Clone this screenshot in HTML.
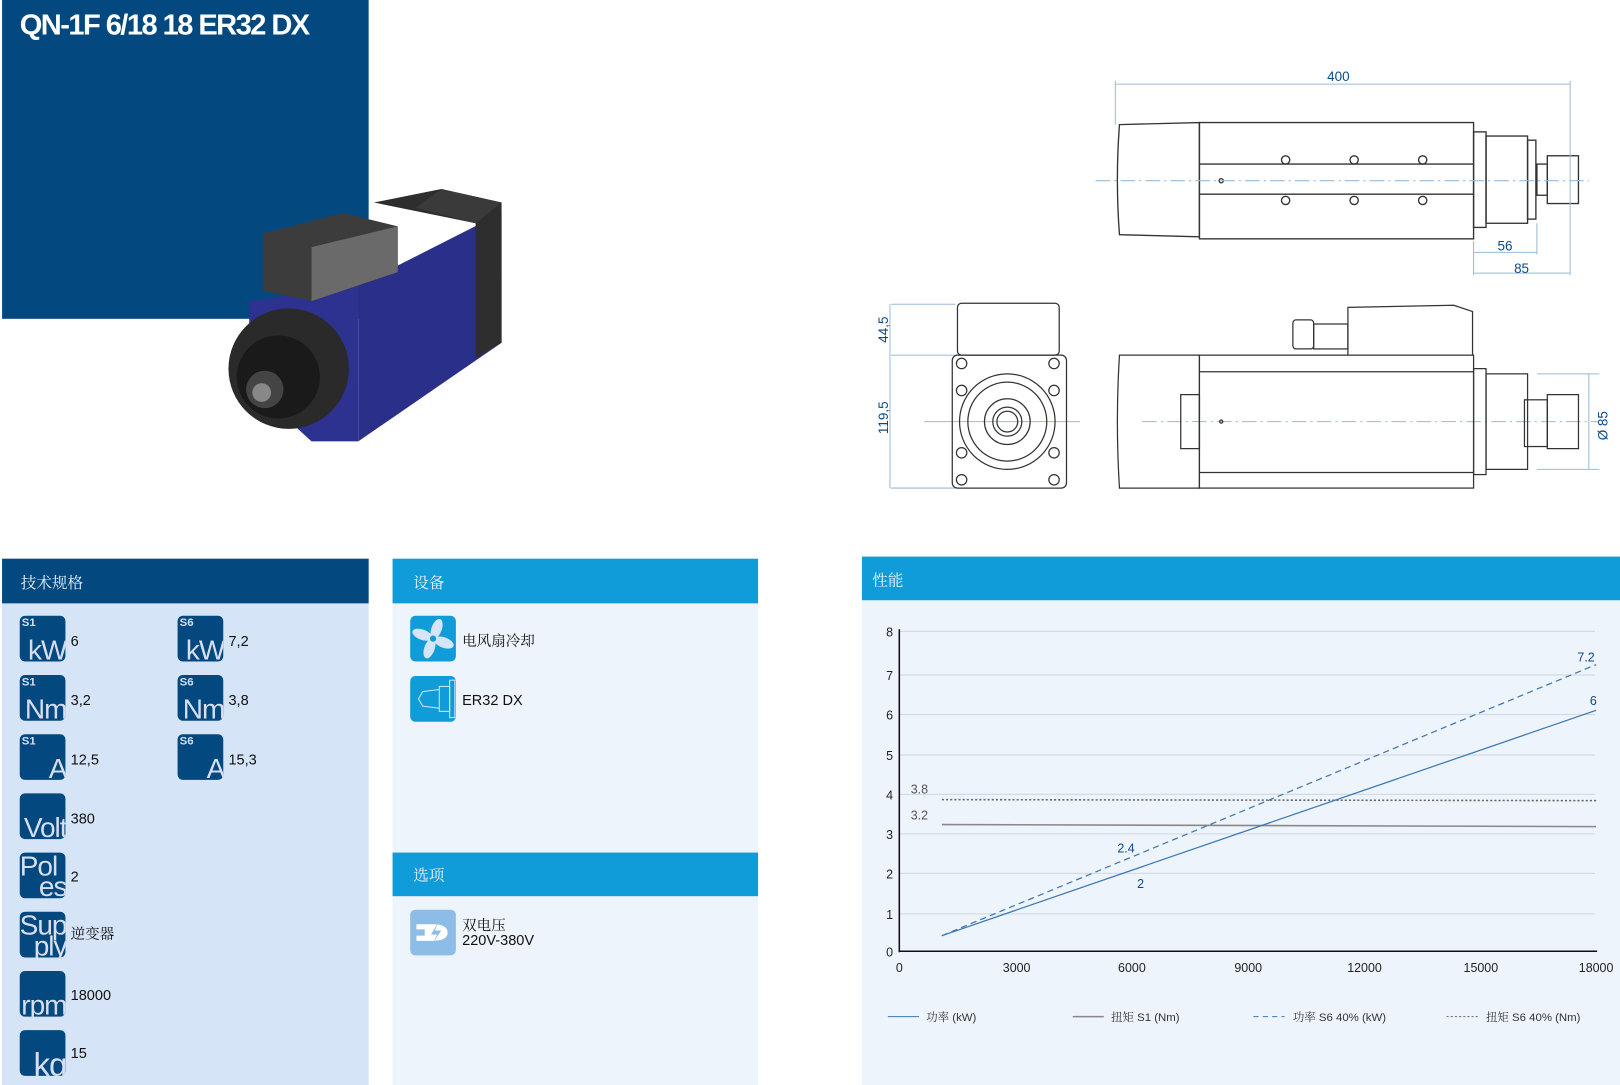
<!DOCTYPE html>
<html><head><meta charset="utf-8"><style>
body{margin:0;width:1620px;height:1081px;background:#fff;position:relative;overflow:hidden;font-family:"Liberation Sans","Noto Sans CJK SC",sans-serif}
#w{position:absolute;left:0;top:0;width:1560px;height:1041px;transform:scale(1.03846);transform-origin:0 0}
.a{position:absolute}
.ic{position:absolute;width:44px;height:44px;background:#03487f;border-radius:5px;overflow:hidden;color:#d8def0}
.ic .s{position:absolute;left:2px;top:1px;font-size:11px;font-weight:bold}
.ic .b{position:absolute;right:-1px;bottom:-3px;font-size:27px;line-height:27px;letter-spacing:-1px}
.v{position:absolute;font-size:14px;color:#111}
.hd{position:absolute;color:#e8f2fb;font-size:15px;font-family:"Noto Serif CJK SC",serif}
</style></head><body><div id="w">
<div class="a" style="left:2px;top:0;width:353px;height:307px;background:#03487f"></div>
<div class="a" style="left:19px;top:8px;color:#fff;font-size:28px;font-weight:bold;letter-spacing:-1.5px">QN-1F 6/18 18 ER32 DX</div>
<svg class="a" style="left:0;top:0" width="1560" height="530">
<!-- product -->
<polygon points="345,275 483,205 483,330 345,425" fill="#2a2f8a"/>
<polygon points="240,290 345,275 345,425 300,425 240,370" fill="#2d3290"/>
<polygon points="360,195 425,182 483,195 483,330 458,345 458,215" fill="#2e2e2e"/>
<polygon points="425,182 483,195 458,215 400,200" fill="#3a3a3a"/>
<polygon points="253,225 330,205 383,218 383,262 345,275 300,290 253,280" fill="#3c3c3c"/>
<polygon points="300,238 383,218 383,262 300,290" fill="#6a6a6a"/>
<circle cx="278" cy="355" r="58" fill="#2a2a2a"/>
<circle cx="268" cy="363" r="40" fill="#1a1a1a"/>
<circle cx="255" cy="375" r="18" fill="#444"/>
<circle cx="252" cy="378" r="9" fill="#888"/>
<!-- top view -->
<g stroke="#333" fill="none" stroke-width="1.3">
<path d="M1078,120 L1155,118 L1155,228 L1078,226 Q1074,173 1078,120Z"/>
<rect x="1155" y="118" width="264" height="112"/>
<line x1="1155" y1="158" x2="1419" y2="158"/><line x1="1155" y1="187" x2="1419" y2="187"/>
<rect x="1419" y="127" width="12" height="92"/><rect x="1431" y="131" width="40" height="84"/>
<rect x="1471" y="135" width="8" height="76"/>
<rect x="1480" y="158" width="10" height="30"/><rect x="1490" y="150" width="30" height="46"/>
<circle cx="1238" cy="154" r="4"/><circle cx="1304" cy="154" r="4"/><circle cx="1370" cy="154" r="4"/>
<circle cx="1238" cy="193" r="4"/><circle cx="1304" cy="193" r="4"/><circle cx="1370" cy="193" r="4"/>
<circle cx="1176" cy="174" r="2"/>
</g>
<g stroke="#9bbbd8" stroke-width="1" fill="none">
<line x1="1055" y1="174" x2="1530" y2="174" stroke-dasharray="14,4,2,4"/>
<line x1="1074" y1="81" x2="1512" y2="81"/><line x1="1074" y1="78" x2="1074" y2="120"/><line x1="1512" y1="78" x2="1512" y2="265"/>
<line x1="1419" y1="232" x2="1419" y2="265"/><line x1="1419" y1="243" x2="1480" y2="243"/><line x1="1480" y1="215" x2="1480" y2="245"/>
<line x1="1419" y1="263" x2="1512" y2="263"/>
<line x1="858" y1="293" x2="920" y2="293"/><line x1="858" y1="342" x2="920" y2="342"/><line x1="858" y1="470" x2="920" y2="470"/>
<line x1="857" y1="293" x2="857" y2="470"/>
<line x1="890" y1="406" x2="1040" y2="406"/><line x1="1100" y1="406" x2="1540" y2="406" stroke-dasharray="14,4,2,4"/>
<line x1="1480" y1="360" x2="1540" y2="360"/><line x1="1480" y1="452" x2="1540" y2="452"/><line x1="1530" y1="360" x2="1530" y2="452"/>
</g>
<g fill="#0b4a8a" font-size="13">
<text x="1278" y="78">400</text><text x="1442" y="241">56</text><text x="1458" y="263">85</text>
<text transform="translate(855,330) rotate(-90)">44,5</text><text transform="translate(855,418) rotate(-90)">119,5</text>
<text transform="translate(1548,424) rotate(-90)">Ø 85</text>
</g>
<g stroke="#333" fill="none" stroke-width="1.2">
<rect x="922" y="292" width="98" height="50" rx="4"/>
<rect x="917" y="342" width="110" height="128" rx="5"/>
<circle cx="970" cy="406" r="46"/><circle cx="970" cy="406" r="38"/><circle cx="970" cy="406" r="22"/><circle cx="970" cy="406" r="14"/><circle cx="970" cy="406" r="10"/>
<circle cx="926" cy="350" r="5"/><circle cx="1015" cy="350" r="5"/><circle cx="926" cy="462" r="5"/><circle cx="1015" cy="462" r="5"/>
<circle cx="926" cy="376" r="5"/><circle cx="1015" cy="376" r="5"/><circle cx="926" cy="436" r="5"/><circle cx="1015" cy="436" r="5"/>
<path d="M1078,342 L1155,342 L1155,470 L1078,470 Q1074,406 1078,342Z"/>
<rect x="1155" y="342" width="264" height="128"/><line x1="1155" y1="358" x2="1419" y2="358"/><line x1="1155" y1="455" x2="1419" y2="455"/>
<rect x="1137" y="380" width="18" height="52"/>
<rect x="1419" y="355" width="12" height="102"/><rect x="1431" y="360" width="40" height="92"/>
<rect x="1468" y="385" width="22" height="45"/><rect x="1490" y="380" width="30" height="52"/>
<path d="M1298,342 L1298,296 L1400,294 L1418,300 L1418,342"/>
<rect x="1245" y="308" width="20" height="28" rx="3"/><rect x="1265" y="312" width="33" height="24"/>
<circle cx="1176" cy="406" r="1.5"/>
</g>
</svg>
<!-- panel 1 -->
<div class="a" style="left:2px;top:538px;width:353px;height:507px;background:#d6e4f7"></div>
<div class="a" style="left:2px;top:538px;width:353px;height:43px;background:#03487f"></div>
<div class="hd" style="left:20px;top:550px">技术规格</div>
<div class="ic" style="left:19px;top:593px"><span class="s">S1</span><span class="b">kW</span></div><div class="v" style="left:68px;top:609px">6</div>
<div class="ic" style="left:171px;top:593px"><span class="s">S6</span><span class="b">kW</span></div><div class="v" style="left:220px;top:609px">7,2</div>
<div class="ic" style="left:19px;top:650px"><span class="s">S1</span><span class="b">Nm</span></div><div class="v" style="left:68px;top:666px">3,2</div>
<div class="ic" style="left:171px;top:650px"><span class="s">S6</span><span class="b">Nm</span></div><div class="v" style="left:220px;top:666px">3,8</div>
<div class="ic" style="left:19px;top:707px"><span class="s">S1</span><span class="b">A</span></div><div class="v" style="left:68px;top:723px">12,5</div>
<div class="ic" style="left:171px;top:707px"><span class="s">S6</span><span class="b">A</span></div><div class="v" style="left:220px;top:723px">15,3</div>
<div class="ic" style="left:19px;top:764px"><span class="b">Volt</span></div><div class="v" style="left:68px;top:780px">380</div>
<div class="ic" style="left:19px;top:821px"><span class="b" style="bottom:17px;left:0;right:auto">Pol</span><span class="b">es</span></div><div class="v" style="left:68px;top:836px">2</div>
<div class="ic" style="left:19px;top:878px"><span class="b" style="bottom:17px">Sup</span><span class="b">ply</span></div><div class="v" style="left:68px;top:889px;font-family:'Noto Serif CJK SC',serif">逆变器</div>
<div class="ic" style="left:19px;top:935px"><span class="b">rpm</span></div><div class="v" style="left:68px;top:950px">18000</div>
<div class="ic" style="left:19px;top:992px"><span class="b" style="font-size:32px">kg</span></div><div class="v" style="left:68px;top:1006px">15</div>
<!-- panel 2 -->
<div class="a" style="left:378px;top:538px;width:352px;height:507px;background:#eef4fc"></div>
<div class="a" style="left:378px;top:538px;width:352px;height:43px;background:#109cd8"></div>
<div class="hd" style="left:398px;top:550px">设备</div>
<div class="a" style="left:378px;top:821px;width:352px;height:42px;background:#109cd8"></div>
<div class="hd" style="left:398px;top:832px">选项</div>
<div class="a" style="left:395px;top:593px;width:44px;height:44px;background:#109cd8;border-radius:5px"><svg width="44" height="44"><g fill="#d6e4f7"><ellipse cx="22" cy="12" rx="5" ry="10" transform="rotate(20 22 22)"/><ellipse cx="33" cy="22" rx="10" ry="5" transform="rotate(20 22 22)"/><ellipse cx="22" cy="32" rx="5" ry="10" transform="rotate(20 22 22)"/><ellipse cx="11" cy="22" rx="10" ry="5" transform="rotate(20 22 22)"/></g><circle cx="22" cy="22" r="3" fill="#109cd8"/></svg></div>
<div class="v" style="left:445px;top:607px;font-family:'Noto Serif CJK SC',serif">电风扇冷却</div>
<div class="a" style="left:395px;top:651px;width:44px;height:44px;background:#109cd8;border-radius:5px"><svg width="44" height="44" stroke="#d6e4f7" fill="none"><rect x="38" y="4" width="5" height="36"/><rect x="28" y="10" width="10" height="24"/><path d="M28,13 L12,15 L8,22 L12,29 L28,31"/></svg></div>
<div class="v" style="left:445px;top:666px">ER32 DX</div>
<div class="a" style="left:395px;top:876px;width:44px;height:44px;background:#8dbde6;border-radius:5px"><svg width="44" height="44"><path d="M6,14 H22 Q36,14 36,22 Q36,30 22,30 H6 V25 H14 V19 H6Z" fill="#fff"/><path d="M26,14 L20,24 H26 L22,32 L30,20 H24Z" fill="#8dbde6"/></svg></div>
<div class="v" style="left:445px;top:884px;line-height:14px;font-family:'Liberation Sans','Noto Serif CJK SC',serif">双电压<br>220V-380V</div>
<!-- panel 3 -->
<div class="a" style="left:830px;top:536px;width:730px;height:509px;background:#eef4fc"></div>
<div class="a" style="left:830px;top:536px;width:730px;height:42px;background:#109cd8"></div>
<div class="hd" style="left:840px;top:548px">性能</div>
<svg class="a" style="left:830px;top:536px" width="730" height="509" font-family="Liberation Sans" font-size="12">
<g stroke="#d5dbe3" stroke-width="1.2">
<line x1="36" y1="72" x2="706" y2="72"/><line x1="36" y1="114" x2="706" y2="114"/><line x1="36" y1="152" x2="706" y2="152"/><line x1="36" y1="191" x2="706" y2="191"/><line x1="36" y1="229" x2="706" y2="229"/><line x1="36" y1="267" x2="706" y2="267"/><line x1="36" y1="305" x2="706" y2="305"/><line x1="36" y1="344" x2="706" y2="344"/>
</g>
<line x1="36" y1="70" x2="36" y2="381" stroke="#111" stroke-width="1.5"/>
<line x1="36" y1="380" x2="708" y2="380" stroke="#111" stroke-width="1.5"/>
<g fill="#222" text-anchor="end"><text x="30" y="77">8</text><text x="30" y="119">7</text><text x="30" y="157">6</text><text x="30" y="196">5</text><text x="30" y="234">4</text><text x="30" y="272">3</text><text x="30" y="310">2</text><text x="30" y="349">1</text><text x="30" y="385">0</text></g>
<g fill="#222" text-anchor="middle"><text x="36" y="400">0</text><text x="149" y="400">3000</text><text x="260" y="400">6000</text><text x="372" y="400">9000</text><text x="484" y="400">12000</text><text x="596" y="400">15000</text><text x="707" y="400">18000</text></g>
<line x1="77" y1="258" x2="707" y2="260" stroke="#888" stroke-width="1.5"/>
<line x1="77" y1="234" x2="707" y2="235" stroke="#666" stroke-width="1.5" stroke-dasharray="2,2"/>
<line x1="77" y1="365" x2="707" y2="148" stroke="#3a78b5" stroke-width="1.2"/>
<line x1="77" y1="365" x2="707" y2="104" stroke="#3a78b5" stroke-width="1.2" stroke-dasharray="6,4"/>
<g fill="#555"><text x="47" y="228">3.8</text><text x="47" y="253">3.2</text></g>
<g fill="#0b4a8a"><text x="246" y="285">2.4</text><text x="265" y="319">2</text><text x="689" y="101">7.2</text><text x="701" y="143">6</text></g>
<g font-size="11" fill="#333" font-family="Liberation Sans,Noto Serif CJK SC,serif">
<line x1="25" y1="443" x2="55" y2="443" stroke="#3a78b5"/><text x="62" y="447">功率 (kW)</text>
<line x1="203" y1="443" x2="233" y2="443" stroke="#888" stroke-width="1.5"/><text x="240" y="447">扭矩 S1 (Nm)</text>
<line x1="377" y1="443" x2="407" y2="443" stroke="#3a78b5" stroke-dasharray="5,4"/><text x="415" y="447">功率 S6 40% (kW)</text>
<line x1="563" y1="443" x2="593" y2="443" stroke="#666" stroke-dasharray="2,2"/><text x="601" y="447">扭矩 S6 40% (Nm)</text>
</g>
</svg>
</div></body></html>
